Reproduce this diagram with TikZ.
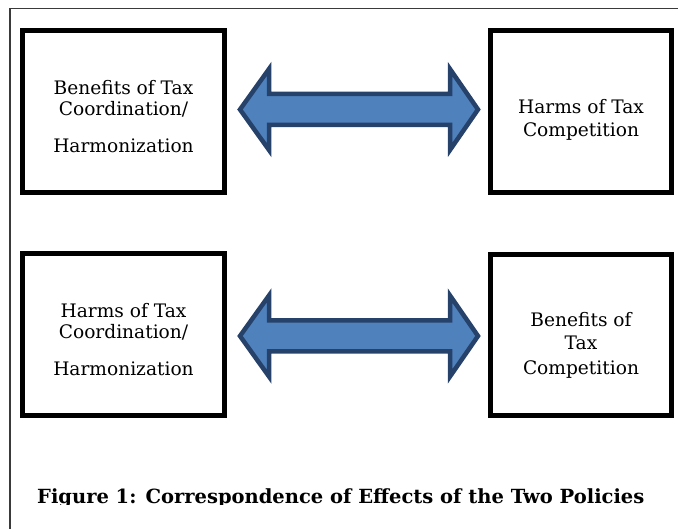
\documentclass[tikz,border=0pt]{standalone}
\usepackage{fontspec}
\setmainfont{DejaVu Serif}
\definecolor{arrowfill}{HTML}{4F81BD}
\definecolor{arrowline}{HTML}{26426A}
\definecolor{framegray}{HTML}{3A3A3A}
\begin{document}
\begin{tikzpicture}[x=1pt,y=-1pt,
  frame/.style={draw=framegray,line width=1.5pt},
  box/.style={draw=black,line width=5pt,inner sep=0pt},
  lbl/.style={font=\fontsize{18.6}{20}\selectfont,inner sep=0pt,anchor=base},
  captiontext/.style={font=\fontsize{19.5}{22}\selectfont\bfseries,inner sep=0pt,anchor=base west},
  dblarrow/.style={draw=arrowline,fill=arrowfill,line width=4.5pt,line join=miter}]
\useasboundingbox (0,0) rectangle (678,529);
% outer frame (clipped by the page at right and bottom)
\coordinate (fbl) at (10,529);
\coordinate (ftl) at (10,8.5);
\coordinate (ftr) at (678,8.5);
\draw[frame] (fbl) -- (ftl) -- (ftr);
% boxes
\node[box,minimum width=202pt,minimum height=162pt] (b1) at (123.5,111.5) {};
\node[box,minimum width=181pt,minimum height=162pt] (b2) at (581,111.5) {};
\node[box,minimum width=202pt,minimum height=162pt] (b3) at (123.5,334.5) {};
\node[box,minimum width=181pt,minimum height=161pt] (b4) at (581,335) {};
% texts
\node[lbl] (t1a) at (123.5,95) {Benefits of Tax};
\node[lbl] (t1b) at (123.5,115.7) {Coordination/};
\node[lbl] (t1c) at (123.5,152.7) {Harmonization};
\node[lbl] (t2a) at (581,113.3) {Harms of Tax};
\node[lbl] (t2b) at (581,136.7) {Competition};
\node[lbl] (t3a) at (123.5,318) {Harms of Tax};
\node[lbl] (t3b) at (123.5,338.7) {Coordination/};
\node[lbl] (t3c) at (123.5,375.7) {Harmonization};
\node[lbl] (t4a) at (581,326.7) {Benefits of};
\node[lbl] (t4b) at (581,350) {Tax};
\node[lbl] (t4c) at (581,375) {Competition};
% double arrows
\foreach \c in {109.5,336} {
  \draw[dblarrow] (240,\c) -- (269,\c-40.5) -- (269,\c-15.5) -- (450,\c-15.5)
    -- (450,\c-40.5) -- (478,\c) -- (450,\c+40.5) -- (450,\c+15.5)
    -- (269,\c+15.5) -- (269,\c+40.5) -- cycle;
}
% caption, cut at the bottom as in the reference
\begin{scope}
\clip (0,0) rectangle (678,504);
\node[captiontext] (caption) at (37,503.5) {Figure 1: Correspondence of Effects of the Two Policies};
\end{scope}
\end{tikzpicture}
\end{document}
